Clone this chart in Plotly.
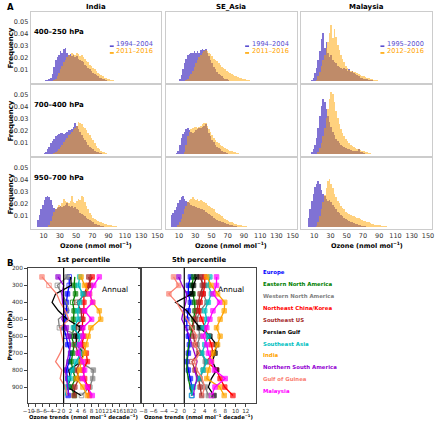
import plotly.graph_objects as go

W, H = 440, 422
FONT = "DejaVu Sans"
BIN = 2  # histogram bin width (nmol/mol); values below are densities in per-mille

# ---------------- Panel A: histogram data (per-mille density per bin) ----------------
india_upper_early_start = 2
india_upper_early = [0.5, 0.3, 0.3, 0.5, 0.5, 0.8, 1, 2, 3, 6, 12, 18, 20, 22, 25, 24, 27, 28, 24, 22,
                     23, 21, 22, 20, 21, 19, 18, 17, 16, 14, 13, 11, 10, 9, 7, 6, 5, 4, 3, 2.5,
                     2, 1.5, 1, 0.5, 0.3]
india_upper_late_start = 20
india_upper_late = [0.5, 1, 2, 4, 7, 10, 13, 16, 18, 20, 22, 21, 24, 23, 22, 24, 23, 21, 22, 20,
                    19, 17, 16, 14, 13, 11, 10, 9, 7, 6, 5, 4, 3, 2.5, 2, 1.5, 1, 0.8, 0.5, 0.4,
                    0.3, 0.2]
india_mid_early_start = 4
india_mid_early = [0.3, 0.5, 0.5, 1, 2, 4, 6, 9, 11, 13, 15, 16, 17, 18, 18, 17, 18, 19, 20, 20,
                   21, 23, 26, 24, 21, 19, 16, 14, 12, 10, 8, 6, 5, 4, 3, 2, 1.5, 1, 0.7, 0.5, 0.3]
india_mid_late_start = 20
india_mid_late = [0.5, 1, 2, 3, 4, 6, 8, 10, 12, 14, 16, 17, 19, 20, 22, 24, 27, 26, 25, 23,
                  22, 20, 18, 16, 14, 12, 9, 7, 5, 4, 3, 2, 1.5, 1, 0.5, 0.3]
india_low_early_start = 2
india_low_early = [6, 10, 15, 19, 23, 25, 26, 25, 23, 19, 16, 15, 16, 17, 18, 17, 18, 19, 20, 18,
                   17, 18, 16, 17, 15, 14, 12, 11, 10, 9, 8, 7, 6, 5, 4, 3, 2.5, 2, 1.5, 1,
                   0.7, 0.5, 0.3]
india_low_late_start = 14
india_low_late = [0.5, 2, 5, 9, 13, 15, 17, 19, 18, 20, 24, 22, 21, 20, 22, 26, 21, 20, 22, 24,
                  23, 26, 25, 21, 18, 15, 12, 10, 8, 7, 6, 5, 4.5, 4, 3.5, 3, 2.5, 2, 1.8, 1.5,
                  1.2, 1, 0.8, 0.6, 0.5, 0.3, 0.2]

se_upper_early_start = 8
se_upper_early = [0.5, 2, 5, 10, 15, 19, 22, 23, 24, 24, 25, 24, 25, 24, 26, 27, 26, 27, 24, 21,
                  18, 15, 12, 10, 8, 6, 5, 4, 3, 2, 1.5, 1, 0.5, 0.3]
se_upper_late_start = 16
se_upper_late = [0.5, 1, 2, 4, 6, 9, 12, 15, 18, 20, 22, 24, 25, 26, 25, 24, 23, 21, 19, 18,
                 17, 15, 14, 12, 11, 10, 9, 8, 7, 6, 5, 4.5, 4, 3.5, 3, 2.5, 2, 1.5, 1.2, 1,
                 0.8, 0.6, 0.5, 0.3]
se_mid_early_start = 2
se_mid_early = [0.3, 0.5, 1, 3, 8, 14, 17, 19, 21, 22, 20, 19, 18, 19, 20, 21, 22, 22, 23, 24,
                25, 22, 18, 15, 12, 10, 8, 6, 5, 4, 3, 2, 1.5, 1, 0.5, 0.3]
se_mid_late_start = 14
se_mid_late = [0.5, 2, 8, 15, 19, 21, 22, 23, 23, 22, 23, 24, 25, 26, 26, 24, 21, 19, 16, 14,
               12, 10, 9, 8, 7, 6, 5, 4, 3.5, 3, 2.5, 2, 1.5, 1, 0.7, 0.5, 0.3]
se_low_early_start = 0
se_low_early = [10, 12, 14, 17, 20, 23, 25, 26, 24, 22, 21, 20, 19, 18, 18, 17, 16, 16, 15, 15,
                14, 13, 12, 11, 10, 9, 8, 7, 6, 5.5, 5, 4.5, 4, 3.5, 3, 2.5, 2, 1.5, 1.2, 1,
                0.8, 0.6, 0.5, 0.4, 0.3]
se_low_late_start = 6
se_low_late = [0.5, 1.5, 4, 7, 11, 15, 18, 21, 23, 24, 25, 24, 23, 24, 22, 23, 22, 21, 20, 19,
               18, 17, 16, 15, 13, 12, 11, 10, 9, 8, 7, 6, 5, 4.5, 4, 3.5, 3, 2.5, 2, 1.8,
               1.5, 1.2, 1, 0.8, 0.6, 0.5, 0.4, 0.3, 0.2]

mal_upper_early_start = 6
mal_upper_early = [1, 3, 7, 11, 18, 25, 35, 40, 28, 33, 24, 20, 22, 18, 16, 15, 13, 12, 11, 10,
                   11, 10, 9, 10, 8, 9, 7, 6, 5, 4, 3, 3, 2, 2, 1.5, 1, 1, 0.8, 0.6, 0.5, 0.4, 0.3]
mal_upper_late_start = 12
mal_upper_late = [1, 4, 8, 13, 18, 22, 28, 33, 40, 47, 36, 44, 37, 30, 26, 22, 19, 16, 13, 11,
                  9.5, 9, 8.5, 8, 7.5, 7, 6, 5, 4.5, 4, 3.5, 3, 2.5, 2, 1.5, 1.2, 1, 0.8, 0.6, 0.5,
                  0.3]
mal_mid_early_start = 4
mal_mid_early = [0.5, 1.5, 4, 8, 14, 22, 32, 40, 46, 44, 38, 32, 27, 23, 19, 16, 13, 11, 9, 8,
                 7, 6, 5, 4.5, 4, 3.5, 3, 2.5, 3, 2.5, 4, 2, 1.5, 1, 0.5, 0.3]
mal_mid_late_start = 12
mal_mid_late = [0.5, 2, 5, 9, 15, 22, 30, 38, 46, 52, 50, 44, 36, 30, 25, 21, 18, 15, 13, 11,
                9, 8, 7, 6, 5, 4.5, 4, 3.5, 3, 2.5, 2, 1.5, 1, 0.8, 0.5, 0.3]
mal_low_early_start = 2
mal_low_early = [8, 15, 22, 28, 34, 36, 39, 36, 31, 28, 26, 24, 22, 23, 21, 19, 17, 15, 13, 12,
                 10, 9, 8, 7, 6, 5, 4.5, 4, 3.5, 3, 2.5, 2, 1.5, 1.2, 1, 0.8, 0.6, 0.5, 0.3]
mal_low_late_start = 12
mal_low_late = [1, 4, 9, 15, 21, 27, 33, 39, 40, 36, 33, 28, 25, 22, 20, 18, 16, 15, 13, 12,
                11, 10, 9.5, 9, 8.5, 8, 7.5, 7, 6, 5.5, 5, 4.5, 4, 3.5, 3, 2.5, 2.2, 2, 1.8, 1.5,
                1.2, 1, 0.8, 0.7, 0.6, 0.5, 0.5, 0.4, 0.4, 0.3, 0.3, 0.3, 0.2, 0.2, 0.2, 0.2,
                0.2, 0.2, 0.2, 0.2, 0.2, 0.2, 0.2]

regions = ["India", "SE_Asia", "Malaysia"]
layers = ["400–250 hPa", "700–400 hPa", "950–700 hPa"]
period_labels = {"India": ["1994–2004", "2011–2016"],
                 "SE_Asia": ["1994–2004", "2011–2016"],
                 "Malaysia": ["1995–2000", "2012–2016"]}
hist_table = {
    (0, 0): (india_upper_early_start, india_upper_early, india_upper_late_start, india_upper_late),
    (1, 0): (india_mid_early_start, india_mid_early, india_mid_late_start, india_mid_late),
    (2, 0): (india_low_early_start, india_low_early, india_low_late_start, india_low_late),
    (0, 1): (se_upper_early_start, se_upper_early, se_upper_late_start, se_upper_late),
    (1, 1): (se_mid_early_start, se_mid_early, se_mid_late_start, se_mid_late),
    (2, 1): (se_low_early_start, se_low_early, se_low_late_start, se_low_late),
    (0, 2): (mal_upper_early_start, mal_upper_early, mal_upper_late_start, mal_upper_late),
    (1, 2): (mal_mid_early_start, mal_mid_early, mal_mid_late_start, mal_mid_late),
    (2, 2): (mal_low_early_start, mal_low_early, mal_low_late_start, mal_low_late),
}
hist_xticks = [10, 30, 50, 70, 90, 110, 130, 150]
hist_yticks = [0.01, 0.02, 0.03, 0.04, 0.05]

# ---------------- Panel B: ozone trend profiles ----------------
levels = [250, 300, 350, 400, 450, 500, 550, 600, 650, 700, 750, 800, 850, 900, 950]
pressure_ticks = [200, 300, 400, 500, 600, 700, 800, 900]
region_names = ["Europe", "Eastern North America", "Western North America", "Northeast China/Korea",
                "Southeast US", "Persian Gulf", "Southeast Asia", "India",
                "Northern South America", "Gulf of Guinea", "Malaysia"]
region_colors = ["#0000ff", "#008000", "#808080", "#ff0000", "#a52a2a", "#000000",
                 "#00bfbf", "#ffa500", "#9400d3", "#fa8072", "#ff00ff"]

# 1st percentile trends (nmol/mol/decade)
p1_europe = [1.6, 1.6, 1.1, 0.8, 0.8, 0.5, 0.0, 0.7, 1.2, 2.0, 1.6, 0.8, 1.2, 1.4, 1.3]
p1_ena = [3.2, 3.0, 3.4, 2.6, 3.0, 2.8, 3.1, 2.2, 3.0, 2.6, 2.2, 2.6, 3.4, 2.2, 3.1]
p1_wna = [1.0, -1.8, -0.5, 0.8, 1.5, -1.5, -1.2, 5.0, 5.5, 5.0, 4.5, 8.5, 8.3, 7.5, 5.1]
p1_neck = [8.2, 7.0, 5.8, 5.8, 5.8, 5.5, 5.3, 5.8, 5.2, 6.5, 6.8, 5.5, 6.0, 7.0, 7.4]
p1_seus = [7.2, 7.6, 6.2, 3.8, 5.0, 5.2, 3.2, 4.0, 3.4, 4.2, 4.8, 3.6, 4.4, 3.2, 3.0]
p1_pg = [2.0, 2.2, -2.3, -3.3, -1.5, 1.0, 5.0, 3.5, 3.8, 5.6, 5.0, 1.5, 2.0, 1.0, 5.0]
p1_sea = [4.6, 4.2, 5.5, 4.6, 4.0, 4.2, 2.8, 4.6, 4.2, 5.0, 3.6, 2.4, 1.8, 0.9, 0.5]
p1_india = [5.0, 6.0, 7.4, 8.3, 10.2, 10.6, 7.8, 7.0, 6.4, 6.0, 5.0, 4.6, 3.7, 5.5, 6.8]
p1_nsa = [-1.6, 0.0, -0.5, -0.3, 0.2, -0.5, 0.8, 1.5, 2.0, 1.5, 1.0, 0.5, 0.8, 1.2, 1.5]
p1_gog = [-6.2, -4.2, -2.0, -1.0, 0.5, 1.5, -1.0, -0.5, 0.0, -1.0, -2.3, -0.5, -1.0, 0.5, 1.0]
p1_malaysia = [10.2, 8.6, 7.4, 8.3, 6.0, 8.0, 5.5, 5.5, 4.6, 4.2, 5.5, 6.0, 5.5, 6.8, 8.2]
# significance: 2 = filled marker, 1 = open marker, 0 = no marker
s1_europe = [1, 1, 2, 2, 2, 2, 2, 1, 2, 2, 2, 2, 1, 2, 2]
s1_ena = [0, 2, 2, 1, 2, 2, 2, 2, 2, 2, 2, 2, 2, 2, 2]
s1_wna = [2, 1, 0, 0, 0, 0, 1, 2, 1, 2, 1, 2, 2, 2, 1]
s1_neck = [2, 2, 2, 2, 2, 2, 2, 2, 2, 2, 2, 2, 2, 2, 2]
s1_seus = [2, 2, 2, 1, 2, 1, 2, 2, 1, 2, 2, 2, 2, 2, 2]
s1_pg = [0, 0, 0, 0, 0, 0, 2, 2, 0, 0, 0, 0, 0, 0, 0]
s1_sea = [2, 2, 2, 2, 2, 2, 2, 2, 2, 2, 2, 2, 2, 2, 0]
s1_india = [2, 2, 2, 2, 2, 2, 2, 2, 2, 2, 2, 2, 2, 2, 2]
s1_nsa = [2, 0, 0, 0, 0, 0, 2, 2, 0, 0, 0, 0, 0, 0, 0]
s1_gog = [2, 1, 0, 0, 0, 0, 0, 0, 0, 0, 0, 0, 0, 0, 0]
s1_malaysia = [2, 2, 2, 2, 2, 2, 2, 2, 2, 2, 2, 2, 2, 2, 2]

# 5th percentile trends
p5_europe = [1.2, 0.8, 0.8, 1.2, 0.8, 0.5, 0.5, 0.8, 1.0, 0.8, 0.5, 0.8, 1.2, 1.5, 1.5]
p5_ena = [1.8, 1.5, 1.7, 2.0, 2.1, 1.8, 1.5, 1.2, 0.8, 0.6, 0.5, 0.5, 0.8, 1.2, 1.5]
p5_wna = [3.4, 3.5, 3.7, 4.4, 3.1, 2.4, 2.8, 3.1, 2.5, 3.4, 4.1, 3.7, 3.1, 4.1, 4.7]
p5_neck = [4.0, 4.0, 3.7, 3.1, 2.8, 3.4, 4.0, 4.7, 5.3, 5.6, 4.4, 6.3, 7.0, 7.9, 9.5]
p5_seus = [3.1, 3.7, 3.1, 2.8, 2.4, 2.1, 1.5, 1.8, 2.1, 2.8, 1.5, 2.1, 2.8, 3.1, 3.4]
p5_pg = [2.4, 1.8, 1.5, -1.7, 0.5, 1.8, 3.0, 5.0, 6.3, 6.0, 5.5, 6.3, 5.3, 4.7, 5.8]
p5_sea = [5.0, 4.7, 5.3, 4.7, 4.0, 4.4, 3.7, 4.7, 4.0, 3.4, 4.4, 3.7, 2.8, 1.8, 1.4]
p5_india = [4.4, 5.3, 6.5, 7.9, 7.8, 7.0, 6.3, 7.0, 6.5, 5.6, 5.3, 4.7, 4.4, 6.9, 7.8]
p5_nsa = [-1.1, -0.4, 0.5, 0.3, -0.2, -0.5, 0.3, 1.0, 1.5, 2.0, 2.5, 2.0, 2.5, 2.0, 1.8]
p5_gog = [-2.1, -1.1, -3.0, -1.5, -0.5, 0.5, 1.5, 2.5, 2.0, 3.0, 2.0, 2.5, 3.5, 4.0, 3.5]
p5_malaysia = [6.3, 6.3, 5.6, 6.9, 5.6, 5.0, 4.4, 3.7, 4.4, 4.7, 5.3, 5.9, 8.0, 6.0, 5.3]
s5_europe = [2, 2, 2, 2, 2, 2, 1, 2, 2, 2, 2, 2, 2, 2, 1]
s5_ena = [2, 2, 2, 2, 2, 2, 2, 0, 0, 0, 0, 0, 0, 0, 0]
s5_wna = [2, 2, 2, 2, 2, 1, 2, 2, 2, 2, 2, 2, 2, 2, 2]
s5_neck = [2, 2, 2, 2, 2, 2, 2, 2, 2, 2, 2, 2, 2, 2, 2]
s5_seus = [2, 2, 2, 2, 1, 2, 1, 2, 2, 2, 1, 2, 2, 2, 2]
s5_pg = [2, 2, 2, 0, 0, 0, 2, 2, 2, 2, 0, 2, 0, 0, 2]
s5_sea = [2, 2, 2, 2, 2, 2, 2, 2, 2, 2, 2, 2, 2, 2, 1]
s5_india = [2, 2, 2, 2, 2, 2, 2, 2, 2, 2, 2, 2, 2, 2, 2]
s5_nsa = [2, 0, 0, 0, 0, 0, 0, 0, 0, 0, 0, 0, 0, 0, 0]
s5_gog = [2, 2, 2, 0, 0, 0, 0, 0, 1, 0, 1, 0, 0, 0, 0]
s5_malaysia = [2, 2, 2, 2, 2, 2, 2, 2, 2, 2, 2, 2, 2, 2, 1]

p1_series = [p1_europe, p1_ena, p1_wna, p1_neck, p1_seus, p1_pg, p1_sea, p1_india, p1_nsa, p1_gog, p1_malaysia]
s1_series = [s1_europe, s1_ena, s1_wna, s1_neck, s1_seus, s1_pg, s1_sea, s1_india, s1_nsa, s1_gog, s1_malaysia]
p5_series = [p5_europe, p5_ena, p5_wna, p5_neck, p5_seus, p5_pg, p5_sea, p5_india, p5_nsa, p5_gog, p5_malaysia]
s5_series = [s5_europe, s5_ena, s5_wna, s5_neck, s5_seus, s5_pg, s5_sea, s5_india, s5_nsa, s5_gog, s5_malaysia]

# ---------------- figure ----------------
BLUE = "#6a5acd"
ORANGE = "#ffa500"
BLUE_TXT = "#5a4fd0"

def X(p):
    return p / W

def Y(p):
    return 1 - p / H

def ax_name(k, axis):
    return axis if k == 1 else f"{axis}{k}"

fig = go.Figure()
layout = {}
annotations = []
shapes = []

def ann(text, x, y, size, color="black", xanchor="center", yanchor="middle", angle=0,
        xref="paper", yref="paper"):
    annotations.append(dict(text=text, x=x, y=y, xref=xref, yref=yref, showarrow=False,
                            xanchor=xanchor, yanchor=yanchor, textangle=angle, borderpad=0,
                            font=dict(family=FONT, size=size, color=color)))

col_left = [26, 163.5, 301]
col_w = 133
row_top = [9, 82.5, 156]
row_h = 72
XR = [-6, 155]
YR = [-0.0018, 0.058]

for r in range(3):
    for c in range(3):
        k = r * 3 + c + 1
        xa, ya = ax_name(k, "x"), ax_name(k, "y")
        layout[ax_name(k, "xaxis")] = dict(
            domain=[X(col_left[c]), X(col_left[c] + col_w)], range=XR, anchor=ya,
            showline=True, mirror=True, linecolor="#cccccc", linewidth=1,
            showgrid=False, zeroline=False, tickvals=hist_xticks,
            showticklabels=(r == 2), ticks="", tickangle=0,
            tickfont=dict(family=FONT, size=6.5, color="#333333"))
        layout[ax_name(k, "yaxis")] = dict(
            domain=[Y(row_top[r] + row_h), Y(row_top[r])], range=YR, anchor=xa,
            showline=True, mirror=True, linecolor="#cccccc", linewidth=1,
            showgrid=False, zeroline=False, tickvals=hist_yticks,
            ticktext=[f"{v:.2f}" for v in hist_yticks],
            showticklabels=(c == 0), ticks="",
            tickfont=dict(family=FONT, size=6.5, color="#333333"))
        s0, early, s1, late = hist_table[(r, c)]
        fig.add_bar(x=[s0 + BIN * i + BIN / 2 for i in range(len(early))],
                    y=[v / 1000 for v in early], width=BIN, marker_color=BLUE,
                    opacity=0.85, marker_line_width=0, xaxis=xa, yaxis=ya, showlegend=False)
        fig.add_bar(x=[s1 + BIN * i + BIN / 2 for i in range(len(late))],
                    y=[v / 1000 for v in late], width=BIN, marker_color=ORANGE,
                    opacity=0.5, marker_line_width=0, xaxis=xa, yaxis=ya, showlegend=False)
        if c == 0:
            ann(f"<b>{layers[r]}</b>", -3.5, 0.0415, 7, xanchor="left", xref=xa, yref=ya)
        if r == 0:
            reg = regions[c]
            ann(f"<b>{reg}</b>", X(col_left[c] + col_w / 2), Y(4.5), 7)
            for j, (lab, colr) in enumerate(zip(period_labels[reg], [BLUE_TXT, ORANGE])):
                yy = 41.5 + 6.8 * j
                ann(lab, X(col_left[c] + 86), Y(yy), 6.6, color=colr, xanchor="left")
                shapes.append(dict(type="line", xref="paper", yref="paper",
                                   x0=X(col_left[c] + 80.5), x1=X(col_left[c] + 84.5),
                                   y0=Y(yy + 2), y1=Y(yy + 2),
                                   line=dict(color=colr, width=1.6)))
        if r == 2:
            ann("<b>Ozone (nmol mol<sup>−1</sup>)</b>", X(col_left[c] + col_w / 2), Y(244.5), 6.5)
    ann("<b>Frequency</b>", X(6), Y(row_top[r] + row_h / 2), 7, angle=-90)

ann("<b>A</b>", X(1), Y(4.5), 8.5, xanchor="left")

# Panel B axes
b_top, b_bot = 267, 403
b_panels = [
    dict(left=23, right=137, rng=[-10.3, 21.8], ticks=list(range(-10, 21, 2)),
         series=p1_series, sig=s1_series, title="1st percentile"),
    dict(left=139, right=255, rng=[-8.3, 14], ticks=list(range(-8, 13, 2)),
         series=p5_series, sig=s5_series, title="5th percentile"),
]
for i, bp in enumerate(b_panels):
    k = 10 + i
    xa, ya = f"x{k}", f"y{k}"
    layout[f"xaxis{k}"] = dict(
        domain=[X(bp["left"]), X(bp["right"])], range=bp["rng"], anchor=ya,
        showline=True, mirror=True, linecolor="#444444", linewidth=1,
        showgrid=False, zeroline=False, tickvals=bp["ticks"],
        ticktext=[str(t).replace("-", "−") for t in bp["ticks"]],
        ticks="outside", ticklen=2.5, tickcolor="#444444", tickangle=0,
        tickfont=dict(family=FONT, size=5.6, color="#333333"))
    layout[f"yaxis{k}"] = dict(
        domain=[Y(b_bot), Y(b_top)], range=[995, 198], anchor=xa,
        showline=True, mirror=True, linecolor="#444444", linewidth=1,
        showgrid=False, zeroline=False, tickvals=pressure_ticks,
        showticklabels=(i == 0), ticks="outside", ticklen=2.5, tickcolor="#444444",
        tickfont=dict(family=FONT, size=5.8, color="#333333"))
    shapes.append(dict(type="line", xref=xa, yref=f"{ya} domain", x0=0, x1=0, y0=0, y1=1,
                       line=dict(color="black", width=1.2)))
    for vals, sig, colr, name in zip(bp["series"], bp["sig"], region_colors, region_names):
        fig.add_scatter(
            x=vals, y=levels, mode="lines+markers", xaxis=xa, yaxis=ya, showlegend=False,
            name=name, line=dict(color=colr, width=1.3),
            marker=dict(symbol=["square" if s == 2 else "square-open" for s in sig],
                        size=[4.5 if s > 0 else 0 for s in sig], color=colr,
                        line=dict(color=colr, width=1)))
    cx = (bp["left"] + bp["right"]) / 2
    ann(f"<b>{bp['title']}</b>", X(cx), Y(259), 6.8)
    ann("Annual", X(bp["right"] - 25), Y(289), 7.5)
    ann("<b>Ozone trends (nmol mol<sup>−1</sup> decade<sup>−1</sup>)</b>", X(cx), Y(417), 5.3)

ann("<b>Pressure (hPa)</b>", X(5), Y(335), 6, angle=-90)
ann("<b>B</b>", X(1), Y(262), 8.5, xanchor="left")
for j, (name, colr) in enumerate(zip(region_names, region_colors)):
    ann(f"<b>{name}</b>", X(261), Y(271 + 12 * j), 5.4, color=colr, xanchor="left")

fig.update_layout(
    width=W, height=H, margin=dict(l=0, r=0, t=0, b=0), autosize=False,
    paper_bgcolor="white", plot_bgcolor="white", barmode="overlay", bargap=0,
    font=dict(family=FONT, size=7, color="black"),
    annotations=annotations, shapes=shapes, showlegend=False, **layout)

fig.write_html("out.html", config={"displayModeBar": False, "staticPlot": True},
               post_script="document.body.style.margin='0';document.body.style.overflow='hidden';")
